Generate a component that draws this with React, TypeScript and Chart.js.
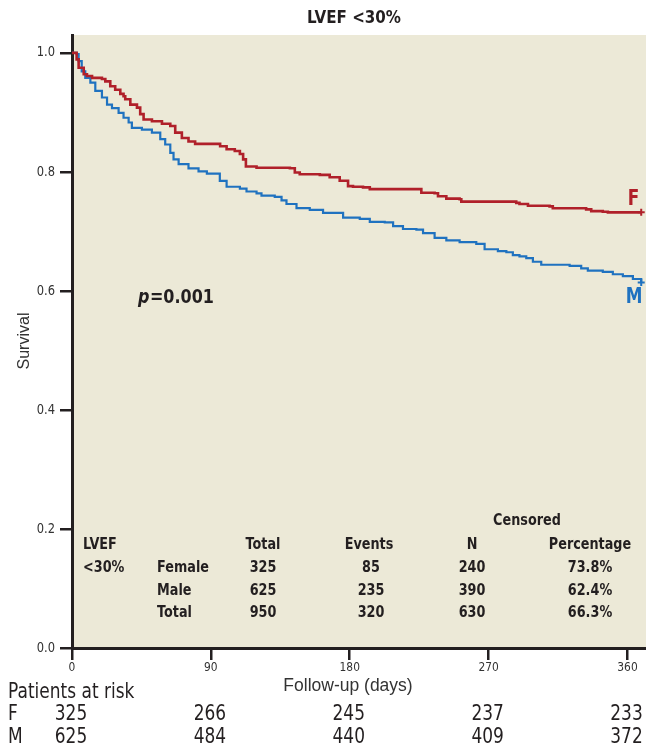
import { useEffect, useRef } from 'react';
import { Chart, registerables } from 'chart.js';

Chart.register(...registerables);

const SANS = "'DejaVu Sans', sans-serif";
const REGULAR = "'Liberation Sans', Arial, sans-serif";
const INK = '#231F20';
const RED = '#B0202A';
const BLUE = '#1F72C0';

// Kaplan-Meier curves (days, survival)
const femaleDays = [0, 3, 4.3, 7.6, 9.7, 13, 19.4, 21.6, 24.8, 28, 31.3, 33.4, 34.5, 37.8, 42.1, 44.2, 46.4, 51.8, 58.3, 63.7, 66.9, 71.2, 75.5, 79.8, 92.8, 96, 100.2, 105.5, 108.8, 110.9, 112.7, 119.6, 141.2, 144.4, 147.6, 160.6, 167, 173.5, 178.9, 182.1, 188.6, 193, 223.2, 226.4, 235, 237.2, 242.6, 251.2, 252.3, 285.7, 287.9, 290, 295.5, 309.5, 311.6, 333.2, 336.5, 344, 347.3, 368.9];
const femaleSurv = [1.0, 0.989, 0.975, 0.964, 0.961, 0.958, 0.956, 0.952, 0.944, 0.938, 0.931, 0.927, 0.922, 0.913, 0.908, 0.897, 0.888, 0.885, 0.881, 0.877, 0.866, 0.857, 0.851, 0.847, 0.847, 0.843, 0.838, 0.835, 0.83, 0.821, 0.809, 0.807, 0.806, 0.799, 0.796, 0.795, 0.791, 0.785, 0.776, 0.775, 0.774, 0.771, 0.771, 0.765, 0.764, 0.759, 0.755, 0.754, 0.75, 0.75, 0.748, 0.746, 0.743, 0.742, 0.739, 0.737, 0.734, 0.733, 0.732, 0.732];

const maleDays = [0, 3, 4.3, 6.3, 8.6, 11.9, 15.1, 19.4, 22.7, 25.9, 30.2, 33.4, 36.7, 38.8, 45.3, 51.8, 57.2, 60.4, 63.7, 65.8, 69.1, 75.5, 82, 87.4, 95.8, 100.2, 108.8, 113.1, 119.6, 122.8, 131.4, 135.8, 139, 145.5, 154.1, 162.7, 175.7, 186.5, 193, 202.7, 208.1, 214.5, 223.2, 227.5, 235, 242.6, 251.2, 262, 267.4, 276, 281.5, 285.7, 290, 294.4, 298.7, 304.1, 322.5, 330, 334.3, 344, 350.5, 357, 363.5, 368.9];
const maleSurv = [1.0, 0.998, 0.986, 0.969, 0.958, 0.95, 0.936, 0.925, 0.913, 0.907, 0.899, 0.891, 0.883, 0.874, 0.871, 0.866, 0.855, 0.846, 0.832, 0.821, 0.813, 0.806, 0.801, 0.797, 0.785, 0.775, 0.772, 0.767, 0.764, 0.76, 0.758, 0.752, 0.746, 0.739, 0.736, 0.731, 0.723, 0.721, 0.716, 0.715, 0.709, 0.704, 0.703, 0.697, 0.689, 0.685, 0.682, 0.679, 0.67, 0.667, 0.665, 0.66, 0.658, 0.655, 0.649, 0.644, 0.642, 0.638, 0.634, 0.632, 0.628, 0.625, 0.62, 0.614];

const xTicks = [0, 90, 180, 270, 360];
const yTicks = [0, 0.2, 0.4, 0.6, 0.8, 1.0];

const atRiskF = [325, 266, 245, 237, 233];
const atRiskM = [625, 484, 440, 409, 372];

const groups = ['Female', 'Male', 'Total'];
const totals = [325, 625, 950];
const events = [85, 235, 320];
const censoredN = [240, 390, 630];
const censoredPct = ['73.8%', '62.4%', '66.3%'];

// draw horizontally condensed text
function ntext(ctx: any, s: string, x: number, y: number, align: string, font: string, sx: number) {
  ctx.save();
  ctx.font = font;
  ctx.textBaseline = 'middle';
  const w = ctx.measureText(s).width * sx;
  let left = x;
  if (align === 'center') left = x - w / 2;
  else if (align === 'right') left = x - w;
  ctx.translate(left, y);
  ctx.scale(sx, 1);
  ctx.textAlign = 'left';
  ctx.fillText(s, 0, 0);
  ctx.restore();
  return w;
}

const decorPlugin = {
  id: 'decor',
  beforeDraw(chart: any) {
    const { ctx, chartArea } = chart;
    ctx.save();
    ctx.fillStyle = '#ECE9D7';
    ctx.fillRect(chartArea.left, chartArea.top, chartArea.right - chartArea.left, chartArea.bottom - chartArea.top);
    ctx.restore();
  },
  afterDraw(chart: any) {
    const { ctx } = chart;
    const xs = chart.scales.x;
    const ys = chart.scales.y;
    ctx.save();

    // tick labels
    ctx.fillStyle = '#333';
    yTicks.forEach((t) => {
      ntext(ctx, t.toFixed(1), 55, ys.getPixelForValue(t), 'right', `14px ${SANS}`, 0.82);
    });
    xTicks.forEach((t) => {
      ntext(ctx, String(t), xs.getPixelForValue(t), 668, 'center', `13px ${SANS}`, 0.82);
    });

    // title
    ctx.fillStyle = INK;
    ntext(ctx, 'LVEF <30%', 354, 18, 'center', `bold 18px ${SANS}`, 0.84);

    // y title
    ctx.save();
    ctx.translate(25, 341);
    ctx.rotate(-Math.PI / 2);
    ctx.font = `16px ${REGULAR}`;
    ctx.fillStyle = '#333';
    ctx.textAlign = 'center';
    ctx.textBaseline = 'middle';
    ctx.fillText('Survival', 0, 0);
    ctx.restore();

    // p value
    ctx.fillStyle = INK;
    const pw = ntext(ctx, 'p', 138, 298, 'left', `italic bold 20px ${SANS}`, 0.8);
    ntext(ctx, '=0.001', 138 + pw + 0.5, 298, 'left', `bold 20px ${SANS}`, 0.8);

    // series labels
    ctx.fillStyle = RED;
    ntext(ctx, 'F', 633.5, 200, 'center', `bold 21px ${SANS}`, 0.8);
    ctx.fillStyle = BLUE;
    ntext(ctx, 'M', 634, 298, 'center', `bold 21px ${SANS}`, 0.8);

    // table
    ctx.fillStyle = INK;
    const tf = `bold 16px ${SANS}`;
    const tsx = 0.8;
    ntext(ctx, 'Censored', 527, 521, 'center', tf, tsx);
    ntext(ctx, 'Total', 263, 545, 'center', tf, tsx);
    ntext(ctx, 'Events', 369, 545, 'center', tf, tsx);
    ntext(ctx, 'N', 472, 545, 'center', tf, tsx);
    ntext(ctx, 'Percentage', 590, 545, 'center', tf, tsx);
    ntext(ctx, 'LVEF', 83, 545, 'left', tf, tsx);
    ntext(ctx, '<30%', 83, 568, 'left', tf, tsx);
    const rowY = [568, 591, 613];
    groups.forEach((g, i) => {
      ntext(ctx, g, 157, rowY[i], 'left', tf, tsx);
      ntext(ctx, String(totals[i]), 263, rowY[i], 'center', tf, tsx);
      ntext(ctx, String(events[i]), 371, rowY[i], 'center', tf, tsx);
      ntext(ctx, String(censoredN[i]), 472, rowY[i], 'center', tf, tsx);
      ntext(ctx, censoredPct[i], 590, rowY[i], 'center', tf, tsx);
    });

    // x title
    ctx.fillStyle = '#333';
    ctx.font = `17.5px ${REGULAR}`;
    ctx.textAlign = 'center';
    ctx.textBaseline = 'middle';
    ctx.fillText('Follow-up (days)', 348, 686);

    // at risk
    ctx.fillStyle = INK;
    const rf = `21px ${SANS}`;
    ntext(ctx, 'Patients at risk', 8, 693, 'left', rf, 0.81);
    ntext(ctx, 'F', 8, 715, 'left', rf, 0.81);
    ntext(ctx, 'M', 8, 738, 'left', rf, 0.81);
    xTicks.forEach((t, i) => {
      const px = xs.getPixelForValue(t);
      ntext(ctx, String(atRiskF[i]), px - 1, 715, 'center', rf, 0.81);
      ntext(ctx, String(atRiskM[i]), px - 1, 738, 'center', rf, 0.81);
    });
    ctx.restore();
  },
};

export default function App() {
  const ref = useRef<HTMLCanvasElement | null>(null);
  useEffect(() => {
    if (!ref.current) return;
    const lastMarker = (n: number) => (c: any) => (c.dataIndex === n - 1 ? 3.5 : 0);
    const chart = new Chart(ref.current, {
      type: 'scatter',
      data: {
        datasets: [
          {
            label: 'F',
            data: femaleDays.map((d, i) => ({ x: d, y: femaleSurv[i] })),
            borderColor: RED,
            backgroundColor: RED,
            borderWidth: 2.6,
            showLine: true,
            stepped: true,
            pointRadius: lastMarker(femaleDays.length),
            pointStyle: 'cross',
            pointBorderWidth: 2,
          },
          {
            label: 'M',
            data: maleDays.map((d, i) => ({ x: d, y: maleSurv[i] })),
            borderColor: BLUE,
            backgroundColor: BLUE,
            borderWidth: 2.2,
            showLine: true,
            stepped: true,
            pointRadius: lastMarker(maleDays.length),
            pointStyle: 'cross',
            pointBorderWidth: 2,
          },
        ],
      },
      options: {
        animation: false,
        responsive: false,
        layout: { autoPadding: false, padding: { top: 35, left: 0, right: 0, bottom: 0 } },
        plugins: { legend: { display: false }, tooltip: { enabled: false }, title: { display: false } },
        scales: {
          x: {
            type: 'linear',
            min: 0,
            max: 372,
            afterBuildTicks: (s: any) => { s.ticks = xTicks.map((v) => ({ value: v })); },
            afterFit: (s: any) => { s.height = 104; },
            ticks: { display: false },
            grid: { drawOnChartArea: false, drawTicks: true, tickLength: 12, color: INK, lineWidth: 2.5 },
            border: { color: INK, width: 3 },
          },
          y: {
            min: 0,
            max: 1.03,
            afterBuildTicks: (s: any) => { s.ticks = yTicks.map((v) => ({ value: v })); },
            afterFit: (s: any) => { s.width = 72; },
            ticks: { display: false },
            grid: { drawOnChartArea: false, drawTicks: true, tickLength: 12, color: INK, lineWidth: 2.5 },
            border: { color: INK, width: 3 },
          },
        },
      },
      plugins: [decorPlugin],
    });
    return () => chart.destroy();
  }, []);
  return (
    <div style={{ position: 'absolute', left: 0, top: 0, width: 646, height: 752, background: '#fff' }}>
      <canvas ref={ref} width={646} height={752} style={{ width: 646, height: 752, display: 'block' }} />
    </div>
  );
}
